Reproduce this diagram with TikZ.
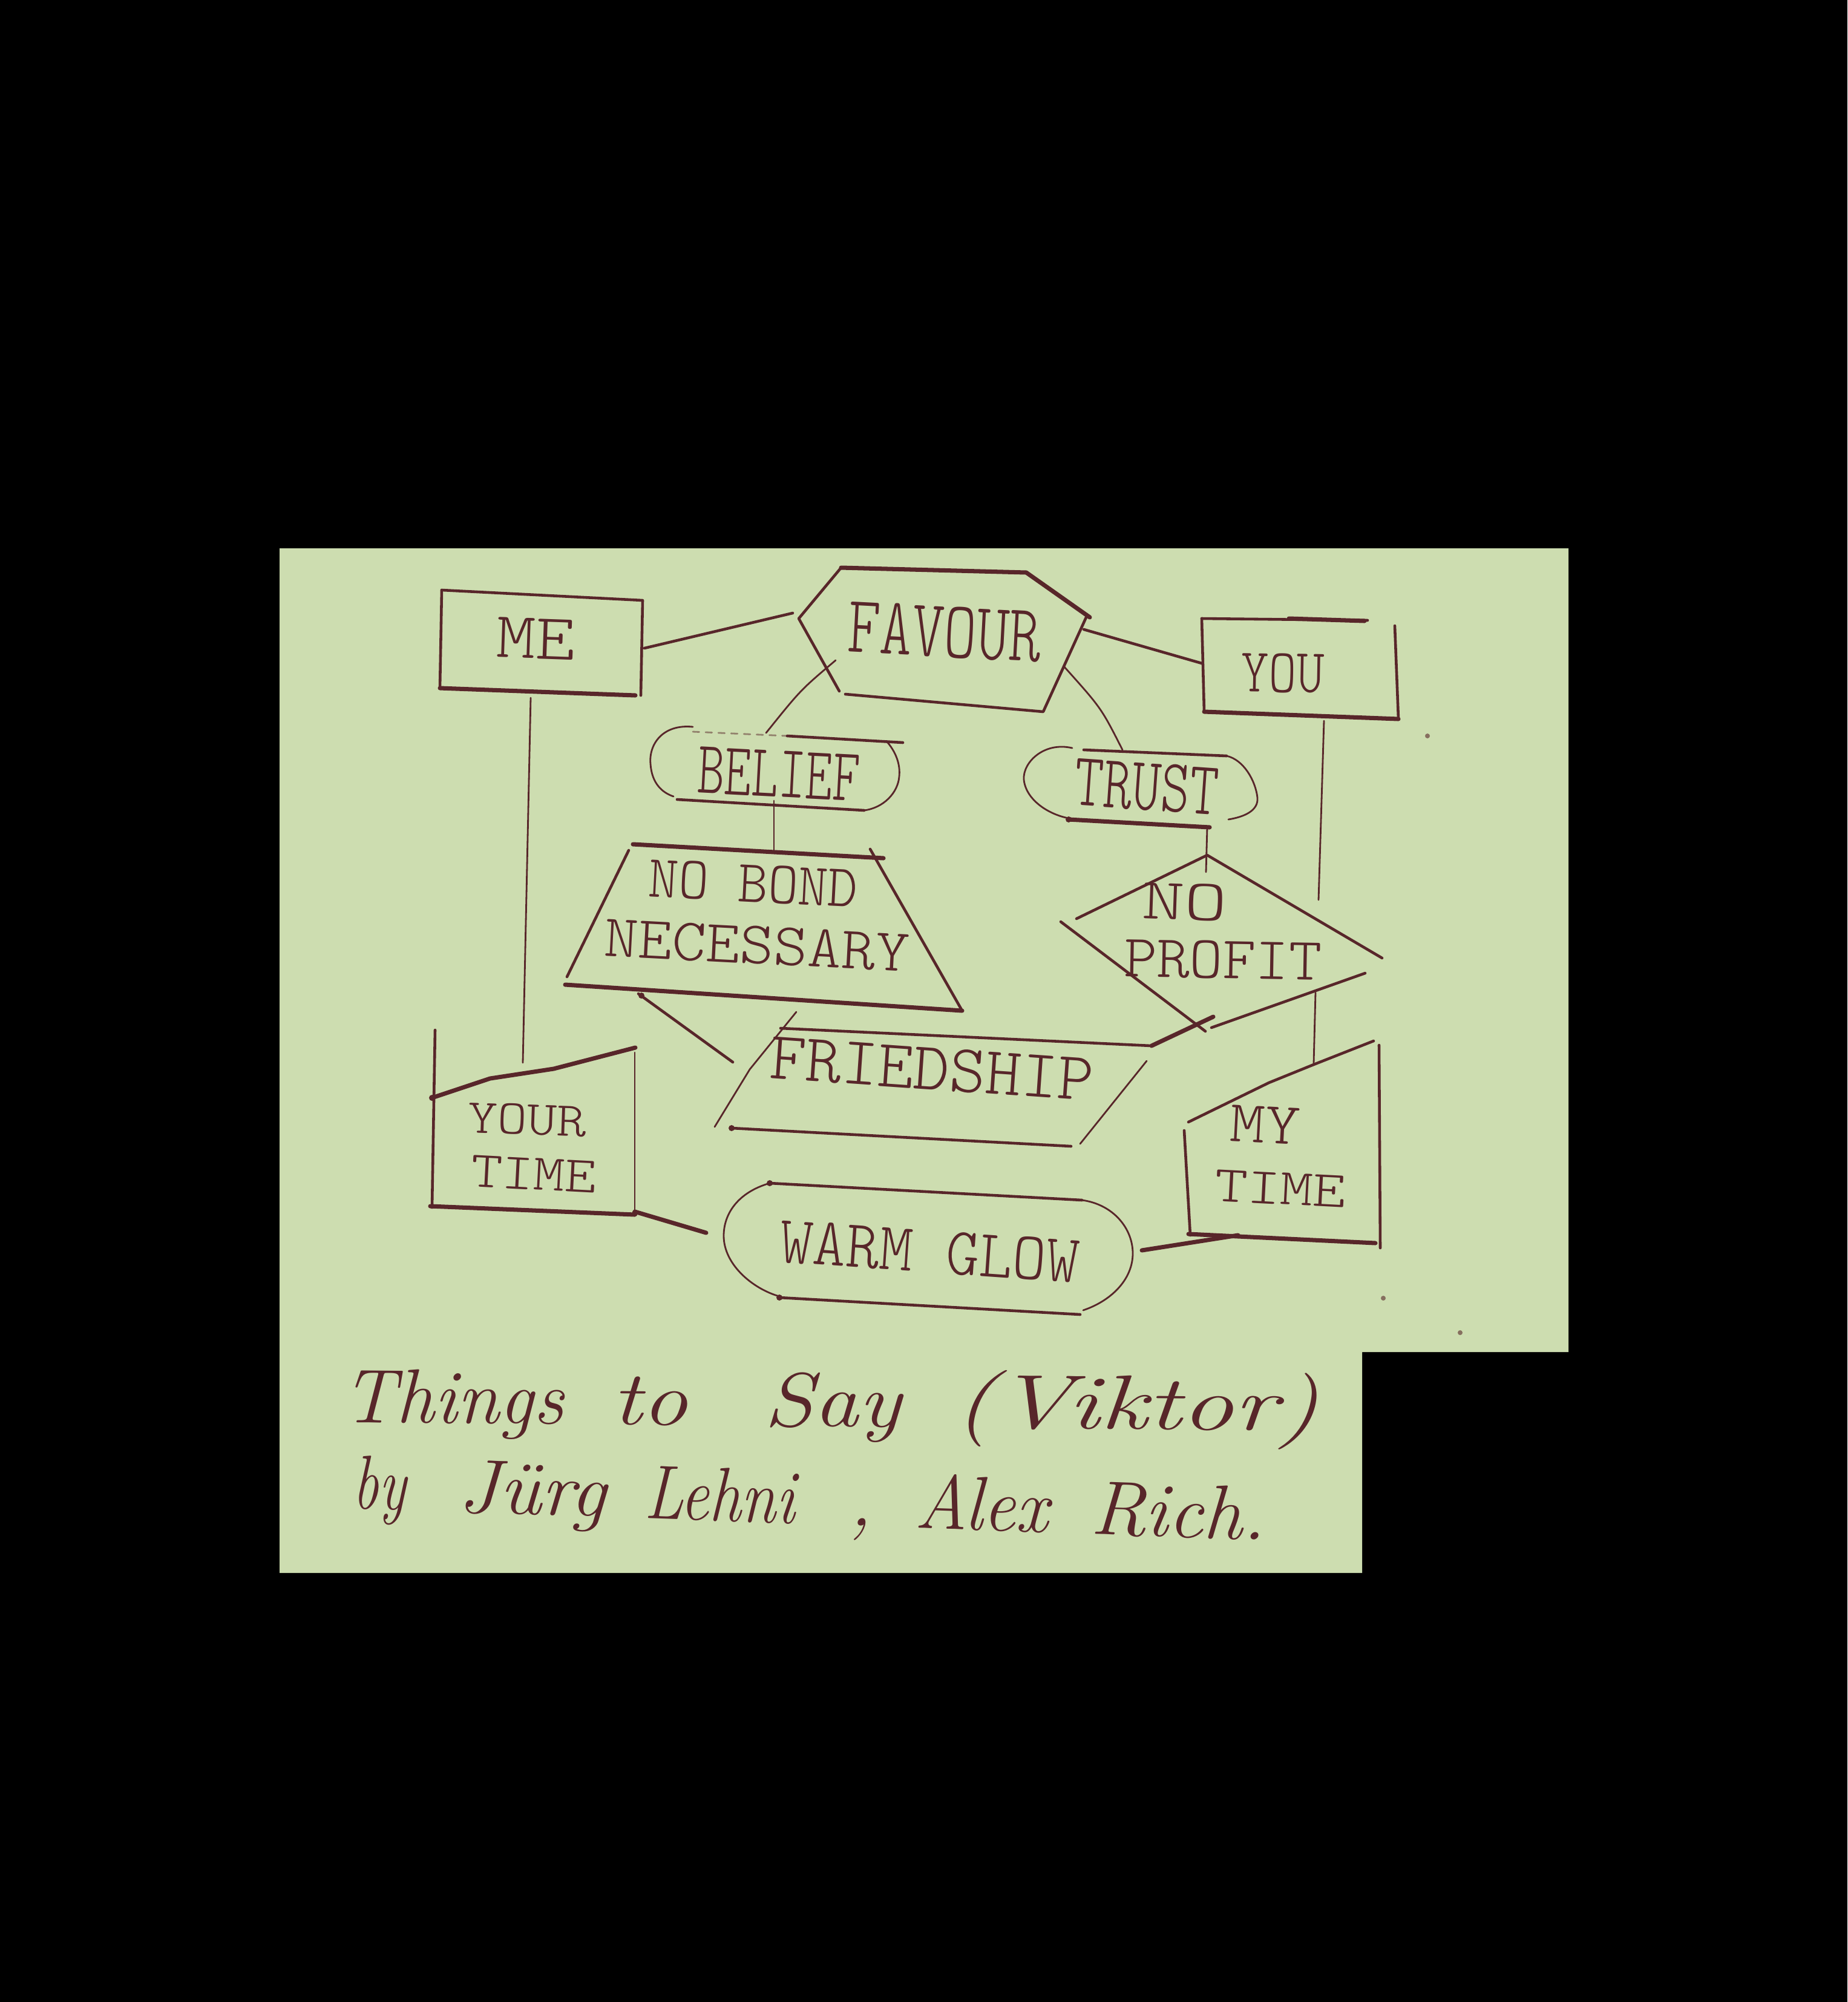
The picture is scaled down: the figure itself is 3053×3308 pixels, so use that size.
\documentclass[tikz,border=0pt]{standalone}
\usepackage{graphicx}
\usepackage{fontspec}
\newfontfamily\handfont{Latin Modern Mono Light}
\definecolor{paper}{RGB}{205,221,176}
\definecolor{ink}{RGB}{88,38,42}
\tikzset{
  pen/.style={draw=ink,line width=1.3pt,line cap=round,line join=round},
  thickpen/.style={draw=ink,line width=2pt,line cap=round,line join=round},
  thinpen/.style={draw=ink,line width=.8pt,line cap=round,line join=round},
  lettering/.style={text=ink,inner sep=0pt,font=\handfont},
  script/.style={text=ink,inner sep=0pt,anchor=base west,font=\fontsize{36}{36}\selectfont\itshape}
}
% width and height of a hand lettered word, in picture units
\newcommand{\word}[3]{\resizebox{#1\dimexpr0.01cm\relax}{#2\dimexpr0.01cm\relax}{#3}}
% the same, only the width
\newcommand{\wide}[2]{\resizebox{#1\dimexpr0.01cm\relax}{\height}{#2}}
\begin{document}
\begin{tikzpicture}[x=0.01cm,y=-0.01cm]
  \useasboundingbox (0,0) rectangle (3053,3308);
  \fill[black] (0,0) rectangle (3053,3308);
  \fill[paper] (462,906) -- (2592,906) -- (2592,2234) -- (2251,2234) -- (2251,2599) -- (462,2599) -- cycle;

  % the words
  \node[lettering,rotate=-2] (me) at (886,1055) {\word{130}{66}{ME}};
  \node[lettering,rotate=-3] (favour) at (1561,1044) {\word{320}{84}{FAVOUR}};
  \node[lettering,rotate=-1] (you) at (2120,1112) {\word{137}{64}{YOU}};
  \node[lettering,rotate=-3] (belief) at (1287,1279) {\word{268}{76}{BELIEF}};
  \node[lettering,rotate=-4] (trust) at (1895,1300) {\word{238}{78}{TRUST}};
  \node[lettering,rotate=-3] (nobond) at (1245,1460) {\word{346}{62}{NO BOND}};
  \node[lettering,rotate=-3] (necessary) at (1251,1562) {\word{504}{62}{NECESSARY}};
  \node[lettering,rotate=-2] (no) at (1958,1490) {\word{141}{60}{NO}};
  \node[lettering,rotate=-1] (profit) at (2021,1586) {\word{327}{62}{PROFIT}};
  \node[lettering,rotate=-4] (friedship) at (1540,1766) {\word{536}{70}{FRIEDSHIP}};
  \node[lettering,rotate=-2] (your) at (871,1850) {\word{196}{50}{YOUR}};
  \node[lettering,rotate=-3] (timeleft) at (882,1940) {\word{207}{52}{TIME}};
  \node[lettering,rotate=-3] (my) at (2091,1859) {\word{116}{60}{MY}};
  \node[lettering,rotate=-3] (timeright) at (2116,1964) {\word{217}{52}{TIME}};
  \node[lettering,rotate=-4] (warmglow) at (1536,2068) {\word{496}{70}{WARM GLOW}};
  \node[script,rotate=-.5] (title) at (565,2350) {\wide{366}{Things}\hspace{.8cm}\wide{125}{to}\hspace{1.26cm}\wide{226}{Say}\hspace{.87cm}\wide{604}{(Viktor)}};
  \node[script,rotate=-2] (authors) at (582,2492) {\wide{87}{by}\hspace{.87cm}\wide{244}{J\"urg}\hspace{.64cm}\wide{249}{Lehni}\hspace{.9cm},\hspace{.7cm}\wide{220}{Alex}\hspace{.7cm}\wide{290}{Rich.}};

  % the boxes
  \draw[pen] (730,975) -- (1062,992) -- (1059,1149);
  \draw[thickpen] (727,1137) -- (1050,1149);
  \draw[pen] (730,975) -- (727,1137);
  \draw[thickpen] (1390,938) -- (1696,946) -- (1801,1020);
  \draw[pen] (1390,938) -- (1320,1022) -- (1387,1142);
  \draw[pen] (1397,1147) -- (1724,1176) -- (1795,1020);
  \draw[pen] (1986,1022) -- (2260,1025);
  \draw[thickpen] (2130,1022) -- (2255,1026);
  \draw[pen] (2305,1034) -- (2311,1188);
  \draw[pen] (1986,1022) -- (1990,1176);
  \draw[thickpen] (1990,1176) -- (2311,1188);

  % belief and trust
  \draw[thinpen] (1145,1201) .. controls (1095,1196) and (1072,1230) .. (1075,1262) .. controls (1077,1295) and (1095,1310) .. (1113,1316);
  \draw[thinpen,dashed,draw opacity=.5] (1145,1209) -- (1301,1216);
  \draw[pen] (1301,1216) -- (1492,1227);
  \draw[pen] (1119,1321) -- (1428,1339);
  \draw[thinpen] (1467,1227) .. controls (1482,1245) and (1488,1265) .. (1486,1283) .. controls (1484,1310) and (1460,1335) .. (1428,1339);
  \draw[pen] (1791,1239) -- (2027,1249);
  \draw[thinpen] (2027,1249) .. controls (2055,1255) and (2075,1290) .. (2078,1318) .. controls (2080,1340) and (2055,1350) .. (2030,1354);
  \draw[thinpen] (1772,1236) .. controls (1725,1225) and (1690,1260) .. (1692,1288) .. controls (1695,1320) and (1730,1345) .. (1766,1352);
  \draw[thickpen] (1766,1354) -- (1999,1367);

  % no bond necessary and no profit
  \draw[thickpen] (1046,1395) -- (1460,1418);
  \draw[pen] (1039,1405) -- (937,1614);
  \draw[pen] (1438,1403) -- (1590,1670);
  \draw[thickpen] (934,1627) -- (1590,1670);
  \draw[pen] (1779,1518) -- (1995,1413) -- (2284,1583);
  \draw[pen] (1753,1523) -- (1992,1704);
  \draw[pen] (2256,1608) -- (2002,1698);

  % friedship and warm glow
  \draw[thinpen] (1316,1672) -- (1239,1767) -- (1181,1862);
  \draw[pen] (1290,1699) -- (1903,1728);
  \draw[thickpen] (1903,1728) -- (2005,1680);
  \draw[thinpen] (1895,1753) -- (1785,1890);
  \draw[pen] (1209,1864) -- (1770,1894);
  \draw[pen] (1272,1955) -- (1788,1983);
  \draw[pen] (1288,2144) -- (1785,2172);
  \draw[thinpen] (1272,1955) .. controls (1220,1970) and (1196,2005) .. (1196,2042) .. controls (1196,2090) and (1245,2130) .. (1288,2142);
  \draw[thinpen] (1788,1983) .. controls (1840,1990) and (1872,2030) .. (1872,2071) .. controls (1872,2115) and (1835,2150) .. (1790,2165);

  % your time and my time
  \draw[thickpen] (714,1814) -- (810,1782) -- (915,1766) -- (1050,1731);
  \draw[pen] (719,1702) -- (714,1995);
  \draw[thinpen] (1049,1739) -- (1049,2002);
  \draw[thickpen] (711,1993) -- (1049,2007);
  \draw[pen] (1964,1854) -- (2097,1789) -- (2171,1759) -- (2270,1720);
  \draw[pen] (1957,1868) -- (1967,2041);
  \draw[pen] (2279,1727) -- (2281,2062);
  \draw[thickpen] (1964,2039) -- (2273,2054);

  % the connectors
  \coordinate (meright) at (1065,1071);
  \coordinate (favourleft) at (1310,1013);
  \coordinate (favourright) at (1791,1040);
  \coordinate (youleft) at (1986,1096);
  \coordinate (favourlow) at (1381,1091);
  \coordinate (belieftop) at (1266,1211);
  \coordinate (favourlowr) at (1759,1102);
  \coordinate (trusttop) at (1855,1239);
  \coordinate (beliefbottom) at (1279,1323);
  \coordinate (nobondtop) at (1279,1410);
  \coordinate (trustbottom) at (1995,1367);
  \coordinate (profittop) at (1993,1441);
  \coordinate (youbottom) at (2188,1191);
  \coordinate (profitin) at (2179,1487);
  \coordinate (profitout) at (2174,1640);
  \coordinate (mytimetop) at (2171,1757);
  \coordinate (friedleft) at (1211,1755);
  \coordinate (nobondbottom) at (1055,1642);
  \coordinate (yourtimetop) at (864,1756);
  \coordinate (mebottom) at (877,1153);
  \coordinate (yourtimeright) at (1049,2002);
  \coordinate (warmleft) at (1167,2037);
  \coordinate (warmright) at (1887,2066);
  \coordinate (mytimebottom) at (2046,2041);

  \draw[pen] (meright) -- (favourleft);
  \draw[pen] (favourright) -- (youleft);
  \draw[thinpen] (favourlow) .. controls (1323,1140) .. (belieftop);
  \draw[thinpen] (favourlowr) .. controls (1820,1170) .. (trusttop);
  \draw[thinpen] (beliefbottom) -- (nobondtop);
  \draw[thinpen] (trustbottom) -- (profittop);
  \draw[thinpen] (youbottom) -- (profitin);
  \draw[thinpen] (profitout) -- (mytimetop);
  \draw[pen] (friedleft) -- (nobondbottom);
  \draw[thinpen] (yourtimetop) -- (mebottom);
  \draw[thickpen] (yourtimeright) -- (warmleft);
  \draw[thickpen] (warmright) -- (mytimebottom);

  % where the pen rested, and specks on the paper
  \foreach \x/\y in {714/1814,1049/2005,1209/1864,1272/1955,1288/2144,1766/1354,1060/1645}
    \fill[ink] (\x,\y) circle (5);
  \foreach \x/\y in {2286/2145,2413/2202,2359/1216}
    \fill[ink,opacity=.6] (\x,\y) circle (4);
\end{tikzpicture}
\end{document}
